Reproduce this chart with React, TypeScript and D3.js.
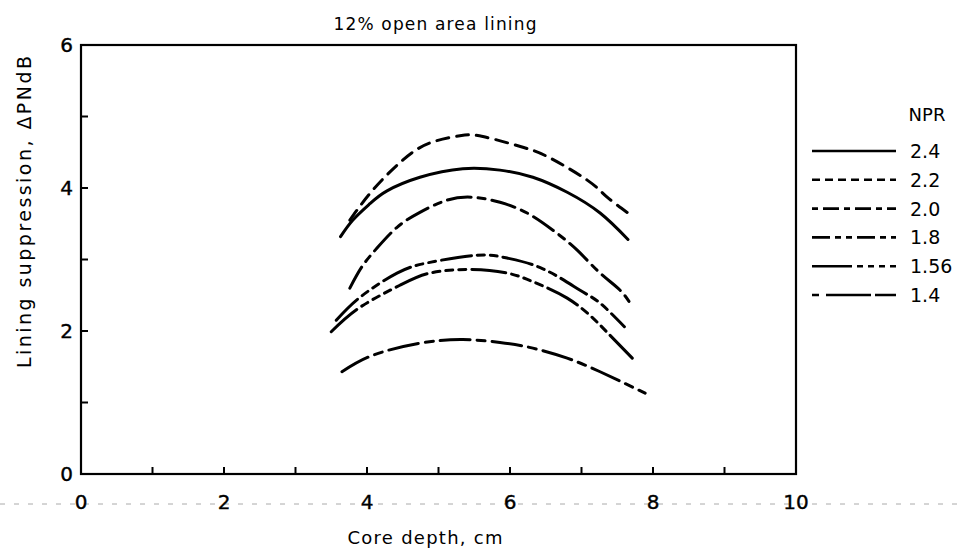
import React, { useEffect, useRef } from "react";
import * as d3 from "d3";

const title = "12% open area lining";
const xTitle = "Core depth, cm";
const yTitle = "Lining suppression, \u0394PNdB";
const legendTitle = "NPR";

const nprLabels = ["2.4", "2.2", "2.0", "1.8", "1.56", "1.4"];

const depth24 = [3.63, 3.8, 4.04, 4.28, 4.74, 5.34, 5.86, 6.32, 6.8, 7.26, 7.65];
const supp24 = [3.32, 3.55, 3.78, 3.96, 4.15, 4.27, 4.25, 4.15, 3.94, 3.65, 3.28];

const depth22 = [3.76, 4.08, 4.5, 4.88, 5.3, 5.62, 6.18, 6.56, 7.08, 7.35, 7.65];
const supp22 = [3.55, 3.97, 4.39, 4.63, 4.73, 4.72, 4.57, 4.42, 4.11, 3.88, 3.65];

const depth20 = [3.76, 3.93, 4.14, 4.42, 4.74, 5.12, 5.48, 5.86, 6.24, 6.6, 6.94, 7.26, 7.54, 7.71];
const supp20 = [2.6, 2.9, 3.16, 3.45, 3.66, 3.83, 3.87, 3.8, 3.65, 3.41, 3.13, 2.81, 2.57, 2.34];

const depth18 = [3.57, 3.9, 4.42, 4.88, 5.54, 5.96, 6.46, 6.98, 7.26, 7.6];
const supp18 = [2.15, 2.47, 2.81, 2.96, 3.06, 3.02, 2.87, 2.57, 2.39, 2.06];

const depth156 = [3.5, 3.9, 4.46, 4.88, 5.44, 5.96, 6.32, 6.8, 7.16, 7.35, 7.71];
const supp156 = [1.99, 2.33, 2.64, 2.81, 2.86, 2.81, 2.69, 2.46, 2.18, 1.99, 1.62];

const depth14 = [3.65, 4.08, 4.74, 5.34, 5.86, 6.32, 6.8, 7.26, 7.89];
const supp14 = [1.43, 1.66, 1.83, 1.88, 1.84, 1.76, 1.62, 1.43, 1.13];

const xTicks = [0, 2, 4, 6, 8, 10];
const yTicks = [0, 2, 4, 6];
const xMinor = [1, 2, 3, 4, 5, 6, 7, 8, 9];
const yMinor = [1, 2, 3, 4, 5];

const plotDash = ["", "12 8", "24 7 7 7", "30 6 7 6 7 6", "34 6 7 6 7 6 7 6", "30 7 8 7"];
const legendDash = ["", "8 5", "6 5 16 5", "18 5 6 5 6 5", "40 5 6 5 6 5 6 5", "7 7 45 4 30"];

const seriesDepths = [depth24, depth22, depth20, depth18, depth156, depth14];
const seriesSupp = [supp24, supp22, supp20, supp18, supp156, supp14];

const FONT = "'DejaVu Sans', Arial, Helvetica, sans-serif";

export default function App() {
  const ref = useRef<SVGSVGElement | null>(null);

  useEffect(() => {
    document.body.style.margin = "0";
    const svg = d3.select(ref.current);
    svg.selectAll("*").remove();

    const left = 81, right = 796, top = 45, bottom = 474;
    const x = d3.scaleLinear().domain([0, 10]).range([left, right]);
    const y = d3.scaleLinear().domain([0, 6]).range([bottom, top]);

    // frame
    svg.append("rect")
      .attr("x", left).attr("y", top)
      .attr("width", right - left).attr("height", bottom - top)
      .attr("fill", "none").attr("stroke", "#000").attr("stroke-width", 2.2);

    // minor ticks (inward)
    const g = svg.append("g");
    xMinor.forEach((v) => {
      g.append("line").attr("x1", x(v)).attr("x2", x(v))
        .attr("y1", bottom).attr("y2", bottom - 7)
        .attr("stroke", "#000").attr("stroke-width", 2);
    });
    yMinor.forEach((v) => {
      g.append("line").attr("x1", left).attr("x2", left + 7)
        .attr("y1", y(v)).attr("y2", y(v))
        .attr("stroke", "#000").attr("stroke-width", 2);
    });

    // scan line artifact under axis
    svg.append("line").attr("x1", 0).attr("x2", 961).attr("y1", 504).attr("y2", 504)
      .attr("stroke", "#aaa").attr("stroke-width", 1).attr("stroke-dasharray", "5 9");

    // tick labels
    xTicks.forEach((v) => {
      svg.append("text").attr("x", x(v)).attr("y", 502)
        .attr("text-anchor", "middle").attr("dominant-baseline", "central")
        .attr("font-family", FONT).attr("font-size", 20).attr("fill", "#000")
        .attr("stroke", "#000").attr("stroke-width", 0.4)
        .text(String(v));
    });
    yTicks.forEach((v) => {
      svg.append("text").attr("x", 73).attr("y", y(v))
        .attr("text-anchor", "end").attr("dominant-baseline", "central")
        .attr("font-family", FONT).attr("font-size", 20).attr("fill", "#000")
        .attr("stroke", "#000").attr("stroke-width", 0.4)
        .text(String(v));
    });

    // titles
    svg.append("text").attr("x", 435).attr("y", 24)
      .attr("text-anchor", "middle").attr("dominant-baseline", "central")
      .attr("font-family", FONT).attr("font-size", 17).attr("fill", "#000")
      .attr("textLength", 203).attr("lengthAdjust", "spacing")
      .text(title);
    svg.append("text").attr("x", 425).attr("y", 537)
      .attr("text-anchor", "middle").attr("dominant-baseline", "central")
      .attr("font-family", FONT).attr("font-size", 18).attr("fill", "#000")
      .attr("textLength", 155).attr("lengthAdjust", "spacing")
      .text(xTitle);
    svg.append("text")
      .attr("transform", `translate(24,212) rotate(-90)`)
      .attr("text-anchor", "middle").attr("dominant-baseline", "central")
      .attr("font-family", FONT).attr("font-size", 19).attr("fill", "#000")
      .attr("textLength", 312).attr("lengthAdjust", "spacing")
      .text(yTitle);

    // curves
    const line = d3.line<[number, number]>()
      .x((d) => x(d[0])).y((d) => y(d[1]))
      .curve(d3.curveNatural);
    seriesDepths.forEach((ds, i) => {
      const pts = ds.map((dv, j) => [dv, seriesSupp[i][j]] as [number, number]);
      svg.append("path").attr("d", line(pts) || "")
        .attr("fill", "none").attr("stroke", "#000")
        .attr("stroke-width", 3).attr("stroke-linecap", "round")
        .attr("stroke-dasharray", plotDash[i] || null);
    });

    // legend
    svg.append("text").attr("x", 927).attr("y", 114)
      .attr("text-anchor", "middle").attr("dominant-baseline", "central")
      .attr("font-family", FONT).attr("font-size", 18).attr("fill", "#000")
      .text(legendTitle);
    const legY = d3.scalePoint<string>().domain(nprLabels).range([151, 295]);
    nprLabels.forEach((lab, i) => {
      const yy = legY(lab) as number;
      svg.append("line").attr("x1", 812).attr("x2", 896).attr("y1", yy).attr("y2", yy)
        .attr("stroke", "#000").attr("stroke-width", 2.6)
        .attr("stroke-dasharray", legendDash[i] || null);
      svg.append("text").attr("x", 910).attr("y", yy)
        .attr("dominant-baseline", "central")
        .attr("font-family", FONT).attr("font-size", 19).attr("fill", "#000")
        .text(lab);
    });
  }, []);

  return (
    <svg ref={ref} width={961} height={550}
      style={{ display: "block", background: "#fff" }} />
  );
}
